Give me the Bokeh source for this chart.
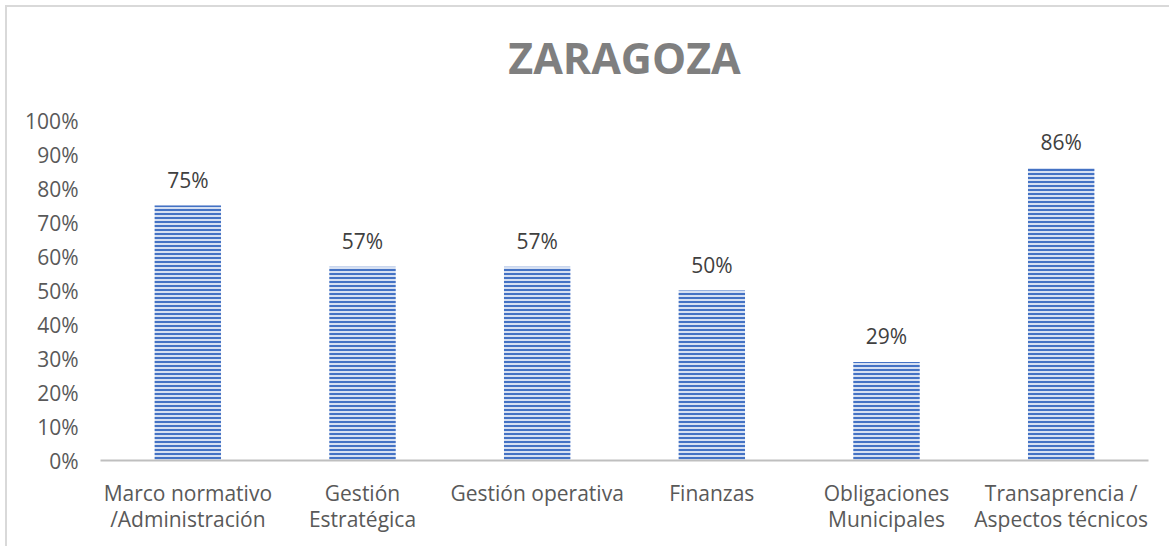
from bokeh.plotting import figure
from bokeh.models import FactorRange, Range1d, FixedTicker, NumeralTickFormatter, ColumnDataSource, Title
from bokeh.core.properties import value
from bokeh.embed import file_html
from bokeh.resources import INLINE

title_text = "ZARAGOZA"
categories = [
    "Marco normativo\n/Administración",
    "Gestión\nEstratégica",
    "Gestión operativa",
    "Finanzas",
    "Obligaciones\nMunicipales",
    "Transaprencia /\nAspectos técnicos",
]
values = [0.75, 0.57, 0.57, 0.50, 0.29, 0.86]
value_labels = ["75%", "57%", "57%", "50%", "29%", "86%"]
y_ticks = [0.0, 0.1, 0.2, 0.3, 0.4, 0.5, 0.6, 0.7, 0.8, 0.9, 1.0]

FONT = "Open Sans"

src = ColumnDataSource(dict(cat=categories, val=values, lab=value_labels))

p = figure(
    width=1162, height=539, title=None,
    x_range=FactorRange(*categories, range_padding=0),
    y_range=Range1d(0, 1.0),
    output_backend="svg", toolbar_location=None,
    min_border_left=93, min_border_right=21, min_border_top=113, min_border_bottom=86,
)
p.margin = (7, 0, 0, 7)
p.styles = {"outline": "2px solid #d9d9d9"}

# spacer between title and plot frame (closest to the frame)
p.add_layout(Title(text=" ", text_font_size="1px", standoff=13), "above")
p.add_layout(Title(text=title_text, align="center", text_font=FONT,
                   text_font_style="bold", text_font_size="43px",
                   text_color="#7f7f7f", offset=0, standoff=36), "above")

p.outline_line_color = None
p.xgrid.grid_line_color = None
p.ygrid.grid_line_color = None

p.vbar(x="cat", top="val", width=0.38, source=src,
       fill_color="#d6e0f2", line_color=None,
       hatch_pattern="horizontal_line", hatch_color="#4472c4",
       hatch_scale=4, hatch_weight=2)

p.text(x="cat", y="val", text="lab", source=src,
       text_align="center", text_baseline="bottom", y_offset=-12,
       text_font=value(FONT), text_font_size="21px", text_color="#404040")

p.yaxis.ticker = FixedTicker(ticks=y_ticks)
p.yaxis.formatter = NumeralTickFormatter(format="0%")
p.yaxis.axis_line_color = None
p.yaxis.major_tick_line_color = None
p.yaxis.minor_tick_line_color = None
p.yaxis.major_tick_out = 0
p.yaxis.major_tick_in = 0
p.yaxis.major_label_standoff = 22
p.yaxis.major_label_text_font = FONT
p.yaxis.major_label_text_font_size = "21px"
p.yaxis.major_label_text_color = "#595959"

p.xaxis.axis_line_color = "#bfbfbf"
p.xaxis.axis_line_width = 2
p.xaxis.major_tick_line_color = None
p.xaxis.major_tick_out = 0
p.xaxis.major_tick_in = 0
p.xaxis.major_label_standoff = 18
p.xaxis.major_label_orientation = "horizontal"
p.xaxis.major_label_text_font = FONT
p.xaxis.major_label_text_font_size = "21px"
p.xaxis.major_label_text_color = "#595959"
p.xaxis.major_label_text_line_height = 0.95

open("out.html", "w").write(file_html(p, INLINE))
